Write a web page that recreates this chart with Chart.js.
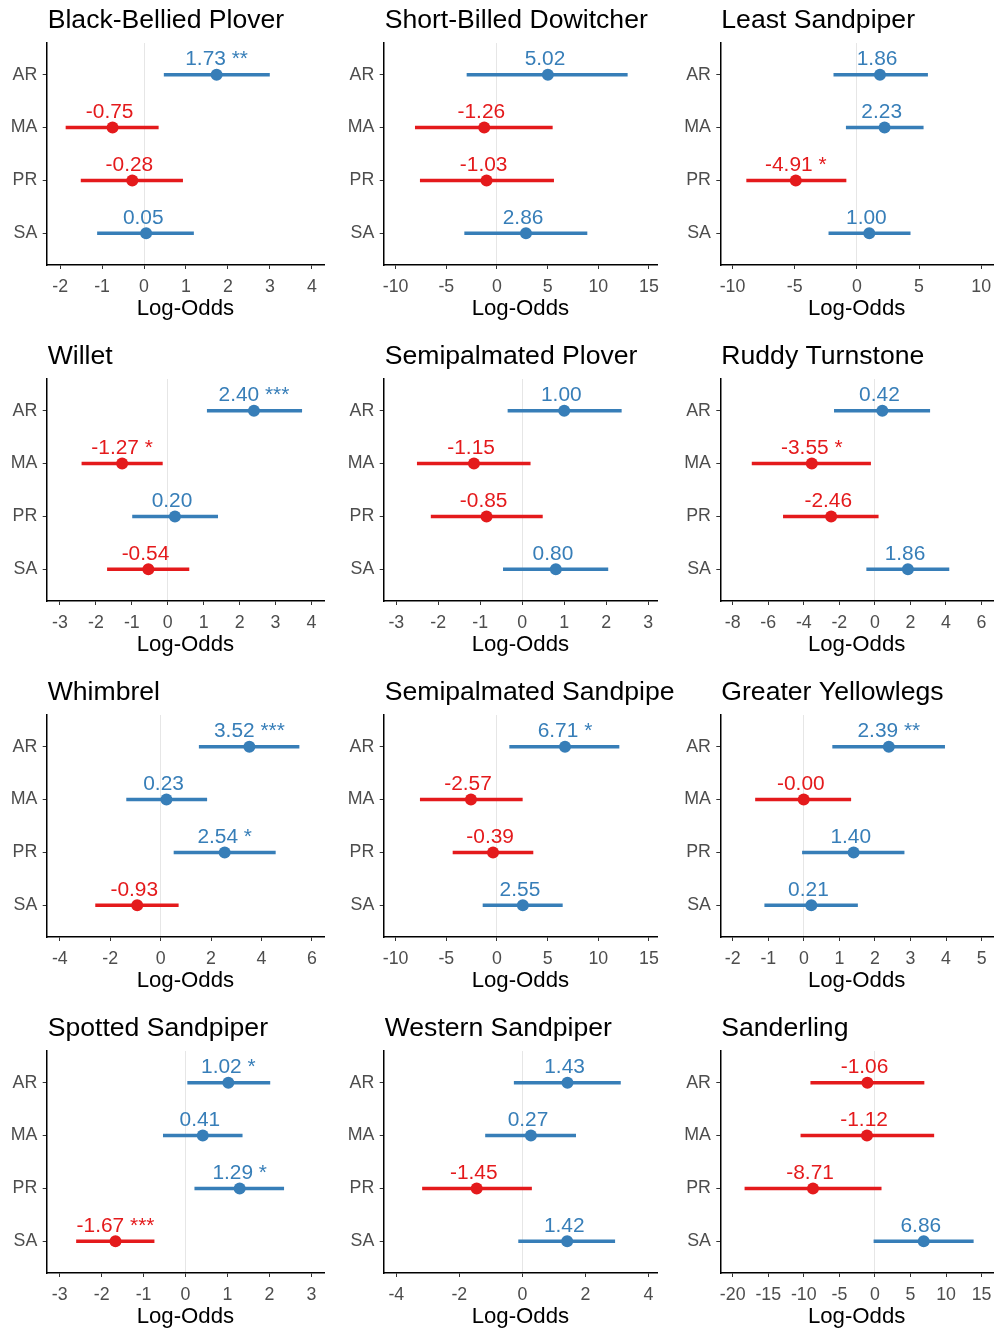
<!DOCTYPE html>
<html lang="en">

<head>
    <meta charset="UTF-8">
    <meta name="viewport" content="width=device-width, initial-scale=1.0">
    <title>Log-Odds by region</title>
    <script src="https://cdn.jsdelivr.net/npm/chart.js@4.4.1/dist/chart.umd.min.js"></script>
    <style>
        html, body { margin: 0; padding: 0; background: #fff; }
        #grid { position: relative; width: 999px; height: 1331px; overflow: hidden; background: #fff; }
        #grid canvas { position: absolute; }
    </style>
</head>

<body>
    <div id="grid"></div>

    <script>
        const regions = ['AR', 'MA', 'PR', 'SA'];

        const species = [
            'Black-Bellied Plover', 'Short-Billed Dowitcher', 'Least Sandpiper',
            'Willet', 'Semipalmated Plover', 'Ruddy Turnstone',
            'Whimbrel', 'Semipalmated Sandpiper', 'Greater Yellowlegs',
            'Spotted Sandpiper', 'Western Sandpiper', 'Sanderling',
        ];

        // estimates per species, in region order AR, MA, PR, SA
        const estimates = [
            [1.73, -0.75, -0.28, 0.05],
            [5.02, -1.26, -1.03, 2.86],
            [1.86, 2.23, -4.91, 1.00],
            [2.40, -1.27, 0.20, -0.54],
            [1.00, -1.15, -0.85, 0.80],
            [0.42, -3.55, -2.46, 1.86],
            [3.52, 0.23, 2.54, -0.93],
            [6.71, -2.57, -0.39, 2.55],
            [2.39, -0.004, 1.40, 0.21],
            [1.02, 0.41, 1.29, -1.67],
            [1.43, 0.27, -1.45, 1.42],
            [-1.06, -1.12, -8.71, 6.86],
        ];

        const lower = [
            [0.48, -1.86, -1.50, -1.11],
            [-2.96, -8.06, -7.57, -3.19],
            [-1.85, -0.85, -8.86, -2.25],
            [1.10, -2.39, -0.98, -1.68],
            [-0.34, -2.50, -2.17, -0.45],
            [-2.28, -6.91, -5.15, -0.46],
            [1.53, -1.35, 0.53, -2.58],
            [1.25, -7.57, -4.34, -1.38],
            [0.81, -1.36, -0.04, -1.10],
            [0.05, -0.53, 0.22, -2.60],
            [-0.26, -1.17, -3.17, -0.12],
            [-9.02, -10.41, -18.28, -0.14],
        ];

        const upper = [
            [2.99, 0.34, 0.92, 1.18],
            [12.86, 5.46, 5.59, 8.88],
            [5.69, 5.34, -0.87, 4.29],
            [3.73, -0.15, 1.39, 0.59],
            [2.36, 0.19, 0.48, 2.04],
            [3.09, -0.24, 0.19, 4.17],
            [5.49, 1.83, 4.55, 0.70],
            [12.04, 2.50, 3.55, 6.45],
            [3.96, 1.32, 2.82, 1.51],
            [2.01, 1.35, 2.34, -0.75],
            [3.11, 1.69, 0.29, 2.93],
            [6.90, 8.28, 0.88, 13.83],
        ];

        const stars = [
            ['**', '', '', ''],
            ['', '', '', ''],
            ['', '', '*', ''],
            ['***', '*', '', ''],
            ['', '', '', ''],
            ['', '*', '', ''],
            ['***', '', '*', ''],
            ['*', '', '', ''],
            ['**', '', '', ''],
            ['*', '', '*', '***'],
            ['', '', '', ''],
            ['', '', '', ''],
        ];

        const xTicks = [
            [-2, -1, 0, 1, 2, 3, 4],
            [-10, -5, 0, 5, 10, 15],
            [-10, -5, 0, 5, 10],
            [-3, -2, -1, 0, 1, 2, 3, 4],
            [-3, -2, -1, 0, 1, 2, 3],
            [-8, -6, -4, -2, 0, 2, 4, 6],
            [-4, -2, 0, 2, 4, 6],
            [-10, -5, 0, 5, 10, 15],
            [-2, -1, 0, 1, 2, 3, 4, 5],
            [-3, -2, -1, 0, 1, 2, 3],
            [-4, -2, 0, 2, 4],
            [-20, -15, -10, -5, 0, 5, 10, 15],
        ];

        const xMin = [-2.32, -11.18, -10.98, -3.37, -3.30, -8.70, -4.52, -11.18, -2.35, -3.31, -4.40, -21.74];
        const xMax = [4.29, 15.79, 10.95, 4.35, 3.21, 6.65, 6.48, 15.79, 5.32, 3.30, 4.27, 16.60];

        const BLUE = '#377EB8';
        const RED = '#E41A1C';
        const FONT = '"Liberation Sans", Arial, sans-serif';

        // panel geometry: canvas columns and where each plot area sits inside them
        const colLeft = [0, 337, 674];
        const colWidth = [337, 337, 325];
        const areaLeft = [46.7, 46.7, 46.3];
        const areaRight = [324, 320, 322.7];
        const rowTop = [0, 336, 672, 1008];
        const PANEL_H = 336;
        const AREA_TOP = 43;
        const AREA_BOTTOM = 265;

        Chart.defaults.font.family = FONT;

        const grid = document.getElementById('grid');

        const colorOf = (v) => v < 0 ? RED : BLUE;

        // species title and value labels above each point
        const labelPlugin = {
            id: 'panelText',
            afterDatasetsDraw(chart) {
                const { ctx, chartArea } = chart;
                const i = chart.options.plugins.panelText.index;
                const points = chart.getDatasetMeta(0).data;

                ctx.save();
                ctx.font = `20.9px ${FONT}`;
                ctx.textAlign = 'center';
                ctx.textBaseline = 'alphabetic';
                points.forEach((pt, j) => {
                    const v = estimates[i][j];
                    ctx.fillStyle = colorOf(v);
                    ctx.fillText(`${v.toFixed(2)} ${stars[i][j]}`, pt.x, pt.y - 9.3);
                });

                ctx.font = `26.6px ${FONT}`;
                ctx.textAlign = 'left';
                ctx.fillStyle = '#000';
                ctx.fillText(species[i], chartArea.left + 1, 27.5);
                ctx.restore();
            }
        };

        const createPanel = (i) => {
            const col = i % 3;
            const row = Math.floor(i / 3);

            const canvas = document.createElement('canvas');
            canvas.width = colWidth[col];
            canvas.height = PANEL_H;
            canvas.style.left = colLeft[col] + 'px';
            canvas.style.top = rowTop[row] + 'px';
            canvas.style.width = colWidth[col] + 'px';
            canvas.style.height = PANEL_H + 'px';
            grid.appendChild(canvas);

            const colors = estimates[i].map(colorOf);

            new Chart(canvas.getContext('2d'), {
                type: 'bar',
                data: {
                    datasets: [
                        {
                            type: 'scatter',
                            data: regions.map((r, j) => ({ x: estimates[i][j], y: j + 1 })),
                            backgroundColor: colors,
                            borderWidth: 0,
                            pointRadius: 6,
                            order: 0,
                        },
                        {
                            type: 'bar',
                            data: regions.map((r, j) => ({ x: [lower[i][j], upper[i][j]], y: j + 1 })),
                            backgroundColor: colors,
                            barThickness: 2.8,
                            order: 1,
                        },
                    ],
                },
                options: {
                    indexAxis: 'y',
                    responsive: false,
                    animation: false,
                    devicePixelRatio: 1,
                    layout: {
                        padding: { top: AREA_TOP, right: colWidth[col] - areaRight[col], bottom: 0, left: 0 },
                    },
                    plugins: {
                        legend: { display: false },
                        tooltip: { enabled: false },
                        title: { display: false },
                        panelText: { index: i },
                    },
                    scales: {
                        x: {
                            type: 'linear',
                            min: xMin[i],
                            max: xMax[i],
                            afterBuildTicks: (scale) => {
                                scale.ticks = xTicks[i].map(v => ({ value: v }));
                            },
                            afterFit: (scale) => {
                                scale.height = PANEL_H - AREA_BOTTOM;
                                scale.paddingLeft = 0;
                                scale.paddingRight = 0;
                            },
                            ticks: {
                                autoSkip: false,
                                maxRotation: 0,
                                padding: 7.8,
                                color: '#4D4D4D',
                                font: { size: 17.8 },
                            },
                            grid: {
                                color: (c) => c.tick && c.tick.value === 0 ? '#E6E6E6' : 'rgba(0,0,0,0)',
                                tickColor: '#333',
                                tickLength: 4,
                                lineWidth: 1,
                            },
                            border: { display: true, color: '#000', width: 1.5 },
                            title: {
                                display: true,
                                text: 'Log-Odds',
                                color: '#000',
                                font: { size: 22.2 },
                                padding: { top: 0, bottom: 14 },
                            },
                        },
                        y: {
                            type: 'linear',
                            min: 0.4,
                            max: 4.6,
                            reverse: true,
                            offset: false,
                            afterBuildTicks: (scale) => {
                                scale.ticks = regions.map((r, j) => ({ value: j + 1 }));
                            },
                            afterFit: (scale) => {
                                scale.width = areaLeft[col];
                                scale.paddingTop = 0;
                                scale.paddingBottom = 0;
                            },
                            ticks: {
                                callback: (v) => regions[v - 1],
                                padding: 5.4,
                                color: '#4D4D4D',
                                font: { size: 17.8 },
                            },
                            grid: {
                                offset: false,
                                drawOnChartArea: false,
                                drawTicks: true,
                                tickLength: 4,
                                tickColor: '#333',
                            },
                            border: { display: true, color: '#000', width: 1.5 },
                        },
                    },
                },
                plugins: [labelPlugin],
            });
        }

        species.forEach((s, i) => createPanel(i));
    </script>
</body>

</html>
